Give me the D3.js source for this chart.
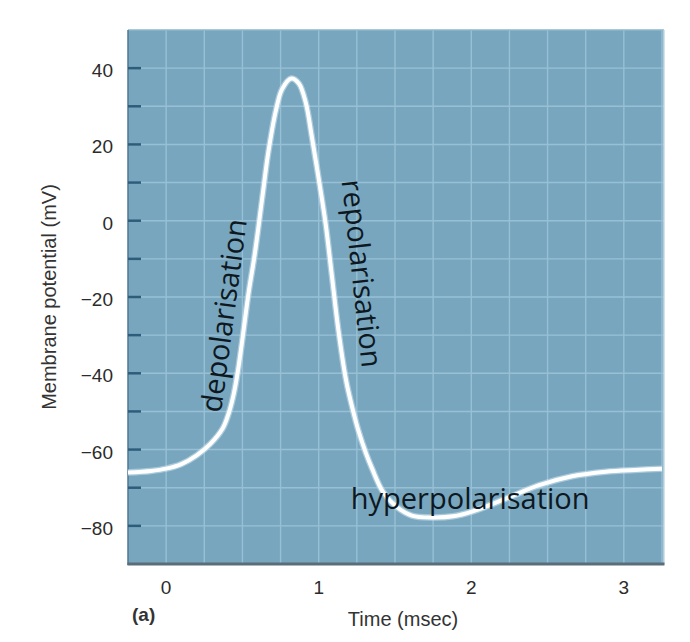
<!DOCTYPE html>
<html>
<head>
<meta charset="utf-8">
<script src="https://cdn.jsdelivr.net/npm/d3@7"></script>
<style>
  html, body { margin: 0; padding: 0; background: #ffffff; }
  svg { display: block; }
</style>
</head>
<body>
<svg id="chart" width="690" height="642"></svg>
<script>
// ---- data ----
const timeMs = [-0.25, -0.1, 0, 0.1, 0.2, 0.29, 0.37, 0.41, 0.44, 0.47, 0.5, 0.54, 0.58, 0.63, 0.67, 0.72, 0.76, 0.82, 0.87, 0.915, 0.955, 1.0, 1.046, 1.085, 1.13, 1.18, 1.22, 1.26, 1.31, 1.35, 1.42, 1.51, 1.61, 1.75, 1.88, 2.01, 2.23, 2.44, 2.66, 2.88, 3.1, 3.25];
const potentialMv = [-66, -65.6, -65, -63.8, -61.5, -58.5, -54.5, -50.5, -46, -39.5, -31, -19, -9, 6, 18, 29, 34.5, 37.3, 36, 31, 22, 11, -1, -14, -29, -42, -49, -55, -61, -65, -71, -75, -77.3, -77.8, -77.5, -76.2, -72.8, -69.4, -67, -65.8, -65.3, -65];

const xTickValues = [0, 1, 2, 3];
const xTickLabels = ["0", "1", "2", "3"];
const yTickValues = [-80, -60, -40, -20, 0, 20, 40];
const yTickLabels = ["\u221280", "\u221260", "\u221240", "\u221220", "0", "20", "40"];
const yMinorTicks = [-80, -70, -60, -50, -40, -30, -20, -10, 0, 10, 20, 30, 40];
const xGridValues = [0, 0.25, 0.5, 0.75, 1, 1.25, 1.5, 1.75, 2, 2.25, 2.5, 2.75, 3, 3.25];

const annotations = [
  { text: "depolarisation", t: 0.36, v: -50.5, angle: -82.4 },
  { text: "repolarisation", t: 1.15, v: 10.5, angle: 83.8 },
  { text: "hyperpolarisation", t: 1.21, v: -75.5, angle: 0 }
];

const xTitle = "Time (msec)";
const yTitle = "Membrane potential (mV)";
const panelLabel = "(a)";

// ---- layout ----
const svg = d3.select("#chart");
const x = d3.scaleLinear().domain([-0.25, 3.25]).range([128, 662]);
const y = d3.scaleLinear().domain([-90, 50]).range([564, 30]);

const [x0, x1] = x.range();
const [yb, yt] = y.range();
const axisFont = "'Liberation Sans', Arial, sans-serif";

// background panel
svg.append("rect")
  .attr("x", x0).attr("y", yt)
  .attr("width", x1 - x0 + 2).attr("height", yb - yt)
  .attr("fill", "#78a6bf");

// grid
const grid = svg.append("g");
grid.selectAll("line.v").data(xGridValues).join("line")
  .attr("x1", d => x(d)).attr("x2", d => x(d))
  .attr("y1", yt).attr("y2", yb)
  .attr("stroke", "#97c0d5").attr("stroke-width", 1.4);
grid.selectAll("line.h").data(yMinorTicks).join("line")
  .attr("x1", x0).attr("x2", x1 + 2)
  .attr("y1", d => y(d)).attr("y2", d => y(d))
  .attr("stroke", "#97c0d5").attr("stroke-width", 1.4);

// borders
svg.append("line").attr("x1", x0).attr("x2", x1 + 2).attr("y1", yt).attr("y2", yt)
  .attr("stroke", "#8db6cb").attr("stroke-width", 1.5);
svg.append("line").attr("x1", x1 + 2).attr("x2", x1 + 2).attr("y1", yt).attr("y2", yb)
  .attr("stroke", "#c9d9e2").attr("stroke-width", 1.5);
svg.append("line").attr("x1", x0).attr("x2", x0).attr("y1", yt).attr("y2", yb + 1)
  .attr("stroke", "#4f7690").attr("stroke-width", 1.5);
svg.append("line").attr("x1", x0 - 0.5).attr("x2", x1 + 2.5).attr("y1", yb).attr("y2", yb)
  .attr("stroke", "#5a6d78").attr("stroke-width", 3);

// y tick marks (inside the panel)
svg.append("g").selectAll("line").data(yMinorTicks).join("line")
  .attr("x1", x0).attr("x2", x0 + 13)
  .attr("y1", d => y(d)).attr("y2", d => y(d))
  .attr("stroke", "#2d5d7b").attr("stroke-width", 2.5);

// y tick labels
svg.append("g").selectAll("text").data(yTickValues).join("text")
  .attr("x", x0 - 15).attr("y", d => y(d) + 9)
  .attr("text-anchor", "end")
  .attr("font-family", axisFont)
  .attr("font-size", 19).attr("fill", "#2b2b2b")
  .text((d, i) => yTickLabels[i]);

// x tick labels
svg.append("g").selectAll("text").data(xTickValues).join("text")
  .attr("x", d => x(d)).attr("y", yb + 30)
  .attr("text-anchor", "middle")
  .attr("font-family", axisFont)
  .attr("font-size", 19).attr("fill", "#2b2b2b")
  .text((d, i) => xTickLabels[i]);

// axis titles
svg.append("text")
  .attr("transform", `translate(${x0 - 72},${(yt + yb) / 2}) rotate(-90)`)
  .attr("text-anchor", "middle")
  .attr("font-family", axisFont)
  .attr("font-size", 20).attr("fill", "#333")
  .text(yTitle);

svg.append("text")
  .attr("x", (x0 + x1) / 2 + 8).attr("y", yb + 62)
  .attr("text-anchor", "middle")
  .attr("font-family", axisFont)
  .attr("font-size", 20).attr("fill", "#333")
  .text(xTitle);

svg.append("text")
  .attr("x", x0 + 4).attr("y", yb + 57)
  .attr("font-family", axisFont)
  .attr("font-weight", "bold")
  .attr("font-size", 19).attr("fill", "#333")
  .text(panelLabel);

// curve
const pts = timeMs.map((t, i) => [t, potentialMv[i]]);
const line = d3.line()
  .x(d => x(d[0])).y(d => y(d[1]))
  .curve(d3.curveCatmullRom.alpha(0.5));

svg.append("path").datum(pts)
  .attr("d", line).attr("fill", "none")
  .attr("stroke", "#d2e8f3").attr("stroke-opacity", 0.55)
  .attr("stroke-width", 6.5).attr("stroke-linejoin", "round");
svg.append("path").datum(pts)
  .attr("d", line).attr("fill", "none")
  .attr("stroke", "#ffffff")
  .attr("stroke-width", 4).attr("stroke-linejoin", "round");

// annotations
svg.append("g").selectAll("text").data(annotations).join("text")
  .attr("transform", d => `translate(${x(d.t)},${y(d.v)}) rotate(${d.angle})`)
  .attr("font-family", "'Open Sans', sans-serif")
  .attr("font-size", 29).attr("fill", "#0e1820")
  .text(d => d.text);
</script>
</body>
</html>
